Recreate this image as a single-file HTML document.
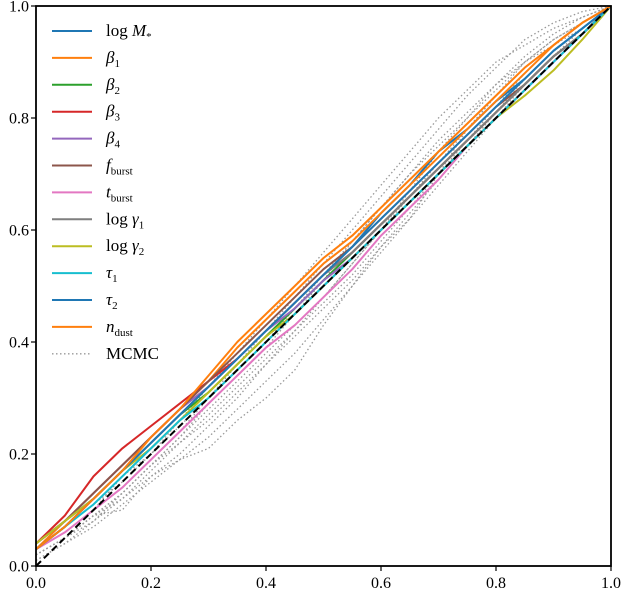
<!DOCTYPE html>
<html><head><meta charset="utf-8">
<style>
html,body{margin:0;padding:0;background:#fff;}
svg{display:block;font-family:"Liberation Serif","DejaVu Serif",serif;}
</style></head>
<body>
<svg id="chart" width="622" height="592" viewBox="0 0 622 592"></svg>
<script>
const xGrid = [0,0.05,0.1,0.15,0.2,0.25,0.3,0.35,0.4,0.45,0.5,0.55,0.6,0.65,0.7,0.75,0.8,0.85,0.9,0.95,1.0];
const seriesNames = ["log M*","beta1","beta2","beta3","beta4","f_burst","t_burst","log gamma1","log gamma2","tau1","tau2","n_dust"];
const seriesColors = ["#1f77b4","#ff7f0e","#2ca02c","#d62728","#9467bd","#8c564b","#e377c2","#7f7f7f","#bcbd22","#17becf","#1f77b4","#ff7f0e"];
const sLogM = [0.03,0.07,0.12,0.17,0.22,0.27,0.32,0.37,0.42,0.47,0.52,0.57,0.63,0.68,0.74,0.78,0.83,0.87,0.92,0.96,1.0];
const sBeta1 = [0.03,0.08,0.13,0.18,0.23,0.28,0.33,0.39,0.44,0.49,0.54,0.58,0.63,0.68,0.73,0.78,0.83,0.88,0.93,0.97,1.0];
const sBeta2 = [0.04,0.08,0.12,0.17,0.22,0.27,0.31,0.36,0.41,0.46,0.51,0.56,0.61,0.66,0.71,0.76,0.81,0.86,0.91,0.95,1.0];
const sBeta3 = [0.04,0.09,0.16,0.21,0.25,0.29,0.33,0.37,0.42,0.47,0.52,0.56,0.61,0.66,0.71,0.76,0.81,0.86,0.91,0.95,1.0];
const sBeta4 = [0.04,0.08,0.13,0.18,0.23,0.28,0.32,0.37,0.42,0.46,0.51,0.55,0.60,0.65,0.70,0.75,0.80,0.85,0.90,0.95,1.0];
const sFburst = [0.04,0.08,0.13,0.18,0.23,0.28,0.33,0.38,0.43,0.48,0.53,0.57,0.62,0.67,0.72,0.77,0.82,0.86,0.91,0.95,1.0];
const sTburst = [0.03,0.06,0.10,0.14,0.19,0.24,0.29,0.34,0.39,0.43,0.48,0.53,0.59,0.64,0.69,0.75,0.80,0.85,0.90,0.95,1.0];
const sGamma1 = [0.03,0.07,0.12,0.17,0.22,0.27,0.32,0.37,0.42,0.47,0.52,0.56,0.61,0.66,0.71,0.76,0.81,0.86,0.91,0.95,1.0];
const sGamma2 = [0.04,0.08,0.12,0.17,0.21,0.26,0.31,0.36,0.41,0.45,0.50,0.55,0.60,0.65,0.70,0.75,0.80,0.84,0.885,0.94,1.0];
const sTau1 = [0.03,0.07,0.11,0.16,0.21,0.26,0.30,0.35,0.40,0.45,0.50,0.55,0.60,0.65,0.70,0.75,0.80,0.85,0.90,0.95,1.0];
const sTau2 = [0.03,0.07,0.12,0.17,0.22,0.27,0.32,0.37,0.42,0.47,0.52,0.57,0.62,0.67,0.72,0.77,0.82,0.87,0.92,0.96,1.0];
const sNdust = [0.03,0.07,0.12,0.17,0.23,0.28,0.34,0.40,0.45,0.50,0.55,0.59,0.64,0.69,0.74,0.79,0.84,0.89,0.93,0.97,1.0];
const mcmc1 = [0.01,0.04,0.08,0.13,0.18,0.23,0.29,0.34,0.39,0.45,0.51,0.58,0.64,0.70,0.76,0.81,0.86,0.90,0.94,0.97,1.0];
const mcmc2 = [0.02,0.05,0.09,0.12,0.16,0.19,0.21,0.26,0.30,0.35,0.43,0.50,0.57,0.62,0.70,0.78,0.84,0.90,0.93,0.96,1.0];
const mcmc3 = [0.03,0.06,0.10,0.16,0.20,0.26,0.32,0.38,0.44,0.50,0.56,0.62,0.68,0.74,0.80,0.85,0.90,0.93,0.96,0.98,1.0];
const mcmc4 = [0.02,0.05,0.09,0.10,0.16,0.20,0.25,0.30,0.36,0.42,0.48,0.54,0.60,0.66,0.72,0.78,0.84,0.89,0.93,0.97,1.0];
const mcmc5 = [0.02,0.05,0.08,0.12,0.17,0.22,0.27,0.32,0.37,0.42,0.47,0.52,0.58,0.64,0.70,0.76,0.82,0.88,0.93,0.97,1.0];
const mcmc6 = [0.03,0.06,0.10,0.14,0.19,0.24,0.30,0.36,0.42,0.48,0.54,0.60,0.66,0.72,0.78,0.84,0.89,0.94,0.97,0.99,1.0];
const mcmc7 = [0.02,0.05,0.09,0.13,0.18,0.22,0.26,0.31,0.36,0.41,0.46,0.51,0.57,0.63,0.69,0.75,0.81,0.87,0.92,0.96,1.0];
const mcmc8 = [0.01,0.04,0.07,0.11,0.15,0.19,0.23,0.28,0.33,0.38,0.44,0.50,0.56,0.62,0.68,0.74,0.80,0.86,0.91,0.96,1.0];
const mcmc9 = [0.03,0.07,0.11,0.15,0.20,0.25,0.30,0.35,0.40,0.46,0.52,0.58,0.64,0.70,0.75,0.80,0.85,0.90,0.94,0.97,1.0];
const mcmc10 = [0.02,0.05,0.09,0.13,0.18,0.23,0.28,0.33,0.38,0.43,0.48,0.54,0.60,0.67,0.74,0.80,0.86,0.91,0.95,0.98,1.0];
const tickVals = [0,0.2,0.4,0.6,0.8,1.0];
const tickLabels = ["0.0","0.2","0.4","0.6","0.8","1.0"];

const series = [sLogM,sBeta1,sBeta2,sBeta3,sBeta4,sFburst,sTburst,sGamma1,sGamma2,sTau1,sTau2,sNdust];
const mcmc = [mcmc1,mcmc2,mcmc3,mcmc4,mcmc5,mcmc6,mcmc7,mcmc8,mcmc9,mcmc10];
const NS = "http://www.w3.org/2000/svg";
const svg = document.getElementById("chart");
const X0 = 36, X1 = 611, Y0 = 566, Y1 = 6;
const sx = v => X0 + v * (X1 - X0);
const sy = v => Y0 - v * (Y0 - Y1);
function mk(tag, attrs, parent) {
  const e = document.createElementNS(NS, tag);
  for (const k in attrs) e.setAttribute(k, attrs[k]);
  (parent || svg).appendChild(e);
  return e;
}
function pts(arr) { return arr.map((v, i) => sx(xGrid[i]).toFixed(1) + "," + sy(v).toFixed(1)).join(" "); }

const plot = mk("g", {});



mcmc.forEach((arr, i) => {
  const l = mk("polyline", {points: pts(arr), fill: "none", stroke: "#999", "stroke-width": 1.3, "stroke-dasharray": "1.5,2.5"}, plot);
  
  
});
series.forEach((arr, i) => {
  const l = mk("polyline", {points: pts(arr), fill: "none", stroke: seriesColors[i], "stroke-width": 2, "stroke-linejoin": "round"}, plot);
  
  
});
const diag = mk("line", {x1: sx(0), y1: sy(0), x2: sx(1), y2: sy(1), stroke: "#000", "stroke-width": 2, "stroke-dasharray": "7,4"}, plot);



const frame = mk("rect", {x: X0, y: Y1, width: X1 - X0, height: Y0 - Y1, fill: "none", stroke: "#000", "stroke-width": 1.8});



tickVals.forEach((v, i) => {
  const tx = mk("line", {x1: sx(v), y1: Y0, x2: sx(v), y2: Y0 + 5, stroke: "#000", "stroke-width": 1.2});
  
  
  const lx = mk("text", {x: sx(v), y: 588, "text-anchor": "middle", "font-size": 16});
  lx.textContent = tickLabels[i];
  
  
  const ty = mk("line", {x1: X0 - 5, y1: sy(v), x2: X0, y2: sy(v), stroke: "#000", "stroke-width": 1.2});
  
  
  const ly = mk("text", {x: 29, y: sy(v) + 5.5, "text-anchor": "end", "font-size": 16});
  ly.textContent = tickLabels[i];
  
  
});

const legendLabels = [
  'log <tspan font-style="italic">M</tspan><tspan font-size="11" dy="4">*</tspan>',
  '<tspan font-style="italic">β</tspan><tspan font-size="11" dy="4">1</tspan>',
  '<tspan font-style="italic">β</tspan><tspan font-size="11" dy="4">2</tspan>',
  '<tspan font-style="italic">β</tspan><tspan font-size="11" dy="4">3</tspan>',
  '<tspan font-style="italic">β</tspan><tspan font-size="11" dy="4">4</tspan>',
  '<tspan font-style="italic">f</tspan><tspan font-size="11" dy="4">burst</tspan>',
  '<tspan font-style="italic">t</tspan><tspan font-size="11" dy="4">burst</tspan>',
  'log <tspan font-style="italic">γ</tspan><tspan font-size="11" dy="4">1</tspan>',
  'log <tspan font-style="italic">γ</tspan><tspan font-size="11" dy="4">2</tspan>',
  '<tspan font-style="italic">τ</tspan><tspan font-size="11" dy="4">1</tspan>',
  '<tspan font-style="italic">τ</tspan><tspan font-size="11" dy="4">2</tspan>',
  '<tspan font-style="italic">n</tspan><tspan font-size="11" dy="4">dust</tspan>',
  'MCMC'
];
const legend = mk("g", {});


legendLabels.forEach((lab, i) => {
  const y = 31 + i * 26.9;
  const isM = i === 12;
  const g = mk("g", {}, legend);
  
  
  mk("line", {x1: 52, y1: y, x2: 92, y2: y, stroke: isM ? "#999" : seriesColors[i], "stroke-width": isM ? 1.3 : 2, "stroke-dasharray": isM ? "1.5,2.5" : "none"}, g);
  const t = mk("text", {x: 106, y: y + 5, "font-size": 17}, g);
  t.innerHTML = lab;
});
</script>
</body></html>
